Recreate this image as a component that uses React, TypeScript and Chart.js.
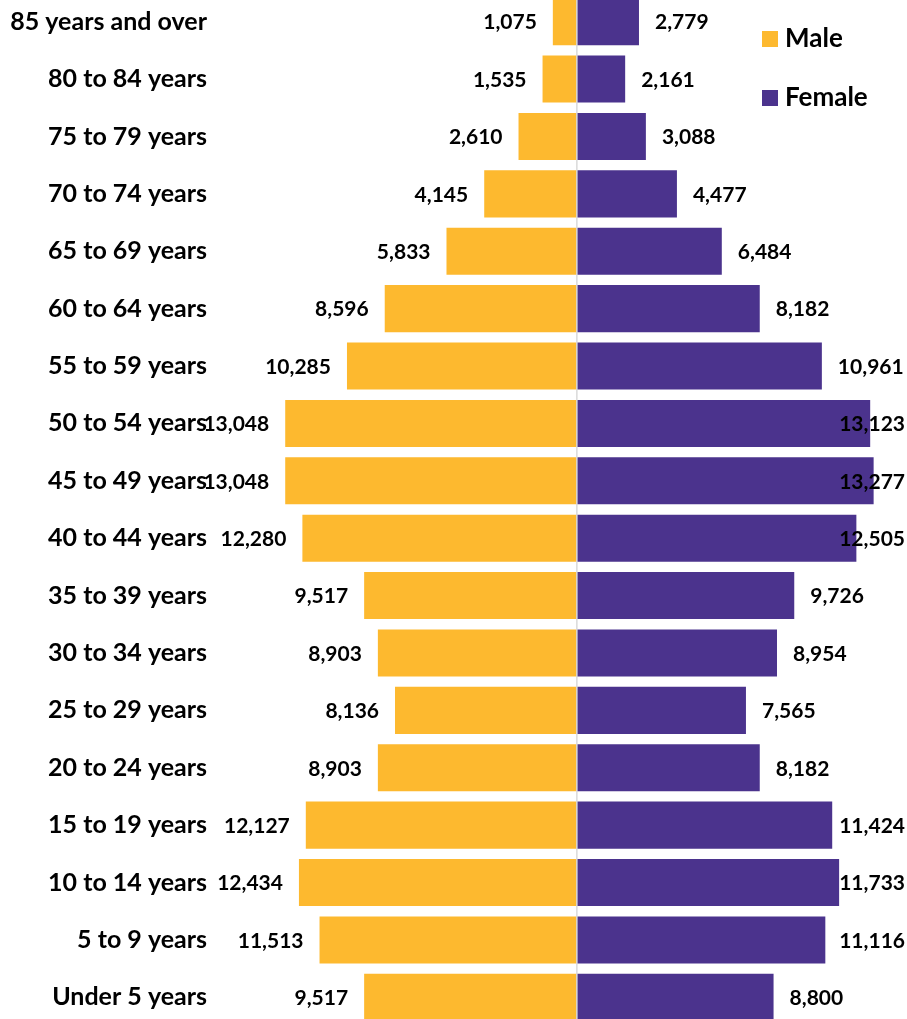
import React, { useEffect, useRef } from "react";
import { Chart, registerables } from "chart.js";

Chart.register(...registerables);

const categories = [
  "85 years and over", "80 to 84 years", "75 to 79 years", "70 to 74 years",
  "65 to 69 years", "60 to 64 years", "55 to 59 years", "50 to 54 years",
  "45 to 49 years", "40 to 44 years", "35 to 39 years", "30 to 34 years",
  "25 to 29 years", "20 to 24 years", "15 to 19 years", "10 to 14 years",
  "5 to 9 years", "Under 5 years",
];
const maleValues = [1075, 1535, 2610, 4145, 5833, 8596, 10285, 13048, 13048, 12280, 9517, 8903, 8136, 8903, 12127, 12434, 11513, 9517];
const femaleValues = [2779, 2161, 3088, 4477, 6484, 8182, 10961, 13123, 13277, 12505, 9726, 8954, 7565, 8182, 11424, 11733, 11116, 8800];
const seriesNames = ["Male", "Female"];

const MALE_COLOR = "#FDB92F";
const FEMALE_COLOR = "#4B338D";
const FONT = "Lato";

const fmt = (v: number) => Math.abs(v).toLocaleString("en-US");

const overlayPlugin = {
  id: "overlay",
  afterDatasetsDraw(chart: any) {
    const { ctx, chartArea } = chart;
    const xs = chart.scales.x;
    const x0 = xs.getPixelForValue(0);
    ctx.save();
    ctx.strokeStyle = "#D9D9D9";
    ctx.lineWidth = 1.5;
    ctx.beginPath();
    ctx.moveTo(x0, chartArea.top);
    ctx.lineTo(x0, chartArea.bottom);
    ctx.stroke();

    ctx.fillStyle = "#000";
    ctx.font = `bold 21px ${FONT}`;
    ctx.textBaseline = "middle";
    chart.data.datasets.forEach((ds: any, di: number) => {
      const meta = chart.getDatasetMeta(di);
      meta.data.forEach((bar: any, i: number) => {
        const v = ds.data[i];
        const txt = fmt(v);
        const w = ctx.measureText(txt).width;
        const y = bar.y + 1;
        if (v < 0) {
          ctx.textAlign = "right";
          ctx.fillText(txt, bar.x - 16, y);
        } else {
          ctx.textAlign = "left";
          const x = Math.min(bar.x + 16, chart.width - 2 - w);
          ctx.fillText(txt, x, y);
        }
      });
    });

    // legend
    const items = [
      { label: seriesNames[0], color: MALE_COLOR, top: 38 },
      { label: seriesNames[1], color: FEMALE_COLOR, top: 97 },
    ];
    ctx.font = `bold 26px ${FONT}`;
    ctx.textAlign = "left";
    ctx.textBaseline = "alphabetic";
    items.forEach((it) => {
      ctx.fillStyle = it.color;
      ctx.fillRect(762, it.top, 16, 16);
      ctx.fillStyle = "#000";
      ctx.fillText(it.label, 785, it.top + 16);
    });
    ctx.restore();
  },
};

export default function App() {
  const ref = useRef<HTMLCanvasElement>(null);
  useEffect(() => {
    if (!ref.current) return;
    const chart = new Chart(ref.current, {
      type: "bar",
      data: {
        labels: categories,
        datasets: [
          {
            label: seriesNames[0],
            data: maleValues.map((v) => -v),
            backgroundColor: MALE_COLOR,
            barPercentage: 0.82,
            categoryPercentage: 1,
          },
          {
            label: seriesNames[1],
            data: femaleValues,
            backgroundColor: FEMALE_COLOR,
            barPercentage: 0.82,
            categoryPercentage: 1,
          },
        ],
      },
      options: {
        indexAxis: "y",
        animation: false,
        responsive: false,
        maintainAspectRatio: false,
        layout: { padding: 0 },
        plugins: { legend: { display: false }, tooltip: { enabled: false } },
        scales: {
          x: {
            display: false,
            stacked: true,
            min: -16100,
            max: 14770,
          },
          y: {
            stacked: true,
            grid: { display: false, drawTicks: false },
            border: { display: false },
            ticks: {
              padding: 10,
              color: "#000",
              font: { family: FONT, size: 25, weight: "bold" },
            },
            afterFit(scale: any) {
              scale.width = 217;
              scale.paddingTop = 0;
              scale.paddingBottom = 0;
            },
          },
        },
      },
      plugins: [overlayPlugin],
    });
    return () => chart.destroy();
  }, []);
  return (
    <div style={{ position: "fixed", left: 0, top: 0, width: 907, height: 1019, overflow: "hidden", background: "#fff" }}>
      <canvas ref={ref} width={907} height={1033} style={{ position: "absolute", left: 0, top: -7, width: 907, height: 1033 }} />
    </div>
  );
}
